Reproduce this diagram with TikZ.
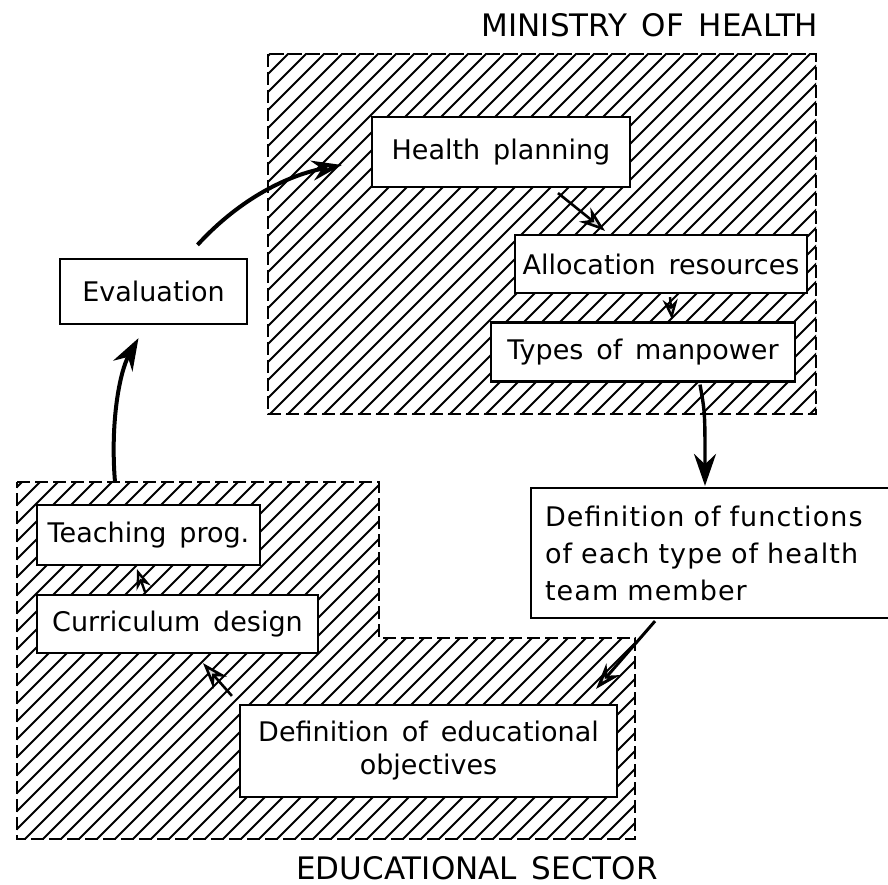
\documentclass[tikz,border=0pt]{standalone}
\usepackage{fontspec}
\setmainfont[WordSpace=1.5]{DejaVu Sans}
\usetikzlibrary{arrows.meta,calc}
\begin{document}
\begin{tikzpicture}[x=1pt,y=-1pt,
  lab/.style={font=\fontsize{27}{33}\selectfont},
  box/.style={draw, line width=2.2pt, fill=white, inner sep=0pt, lab, align=center},
  region/.style={draw, line width=2.4pt, dash pattern=on 13pt off 5pt},
  hatch/.style={line width=2pt},
  title/.style={font=\fontsize{31}{36}\selectfont, inner sep=0pt},
  darrow/.style={line width=4pt, -{Stealth[length=32pt,width=22pt]}},
  parrow/.style={line width=2.6pt, -{Stealth[length=26pt,width=18pt,fill=gray!30]}},
  sarrow/.style={line width=2.4pt, -{Stealth[length=20pt,width=15pt,fill=gray!30]}},
]
\useasboundingbox (0,0) rectangle (888,885);
\fill[white] (0,0) rectangle (888,885);
\clip (0,0) rectangle (888,885);

% Ministry region
\begin{scope}
  \clip (268,54) rectangle (816,414);
  \foreach \k in {-900,-882,...,900} \draw[hatch] (\k,900) -- ++(900,-900);
\end{scope}
\draw[region] (268,54) rectangle (816,414);

% Educational region
\begin{scope}
  \clip (17,482) -- (379,482) -- (379,638) -- (635,638) -- (635,839) -- (17,839) -- cycle;
  \foreach \k in {-900,-882,...,900} \draw[hatch] (\k,900) -- ++(900,-900);
\end{scope}
\draw[region] (17,482) -- (379,482) -- (379,638) -- (635,638) -- (635,839) -- (17,839) -- cycle;
\coordinate (edutop) at (115,482);

% titles
\node[title] (mh) at (650,25) {MINISTRY OF HEALTH};
\node[title] (es) at (477,868) {EDUCATIONAL SECTOR};

% boxes
\node[box, minimum width=258pt, minimum height=70pt] (hp) at (501,152) {Health planning};
\node[box, minimum width=292pt, minimum height=58pt] (alloc) at (661,264) {Allocation resources};
\node[box, minimum width=304pt, minimum height=59pt] (types) at (643,352) {Types of manpower};
\node[box, minimum width=187pt, minimum height=65pt] (eval) at (153.5,291.5) {Evaluation};
\node[box, minimum width=223pt, minimum height=60pt] (teach) at (148.5,535) {Teaching prog.};
\node[box, minimum width=281pt, minimum height=58pt] (curr) at (177.5,624) {Curriculum design};
\node[box, minimum width=377pt, minimum height=92pt] (obj) at (428.5,751) {Definition of educational\\objectives};
\node[box, anchor=west, text width=345pt, align=left, inner xsep=14pt, minimum height=130pt,
      font=\fontsize{27}{37}\selectfont\addfontfeatures{LetterSpace=4}] (fun) at (530,553)
      {Definition of functions\\of each type of health\\team member};

% connectors
\draw[line width=4pt, -{Stealth[length=30pt,width=20pt,fill=gray!30]}]
  ($(eval.north)+(44,-13)$) .. controls ($(eval.north)+(87,-60)$) and ($(hp.west)+(-82,23)$) .. ($(hp.west)+(-29,13)$);
\draw[darrow] (edutop) .. controls ($(eval.south)+(-43.5,96)$) and ($(eval.south)+(-33.5,46)$) .. ($(eval.south)+(-15,13)$);
\draw[parrow] ($(hp.south)+(57,5)$) -- ($(alloc.north)+(-56,-3)$);
\draw[sarrow] ($(alloc.south)+(9,3)$) -- ($(types.north)+(29,-2)$);
\draw[darrow, line width=3.4pt] ($(types.south)+(57,2)$) .. controls ($(types.south)+(62,30)$) .. ($(fun.north west)+(175,-1)$);
\draw[parrow, line width=3pt] ($(fun.south west)+(125,2)$) -- ($(obj.north east)+(-22,-15)$);
\draw[parrow] ($(obj.north west)+(-7,-8)$) -- ($(curr.south)+(25.5,9)$);
\draw[sarrow] ($(curr.north)+(-32.5,-2)$) -- ($(teach.south)+(-11.5,3)$);
\end{tikzpicture}
\end{document}
